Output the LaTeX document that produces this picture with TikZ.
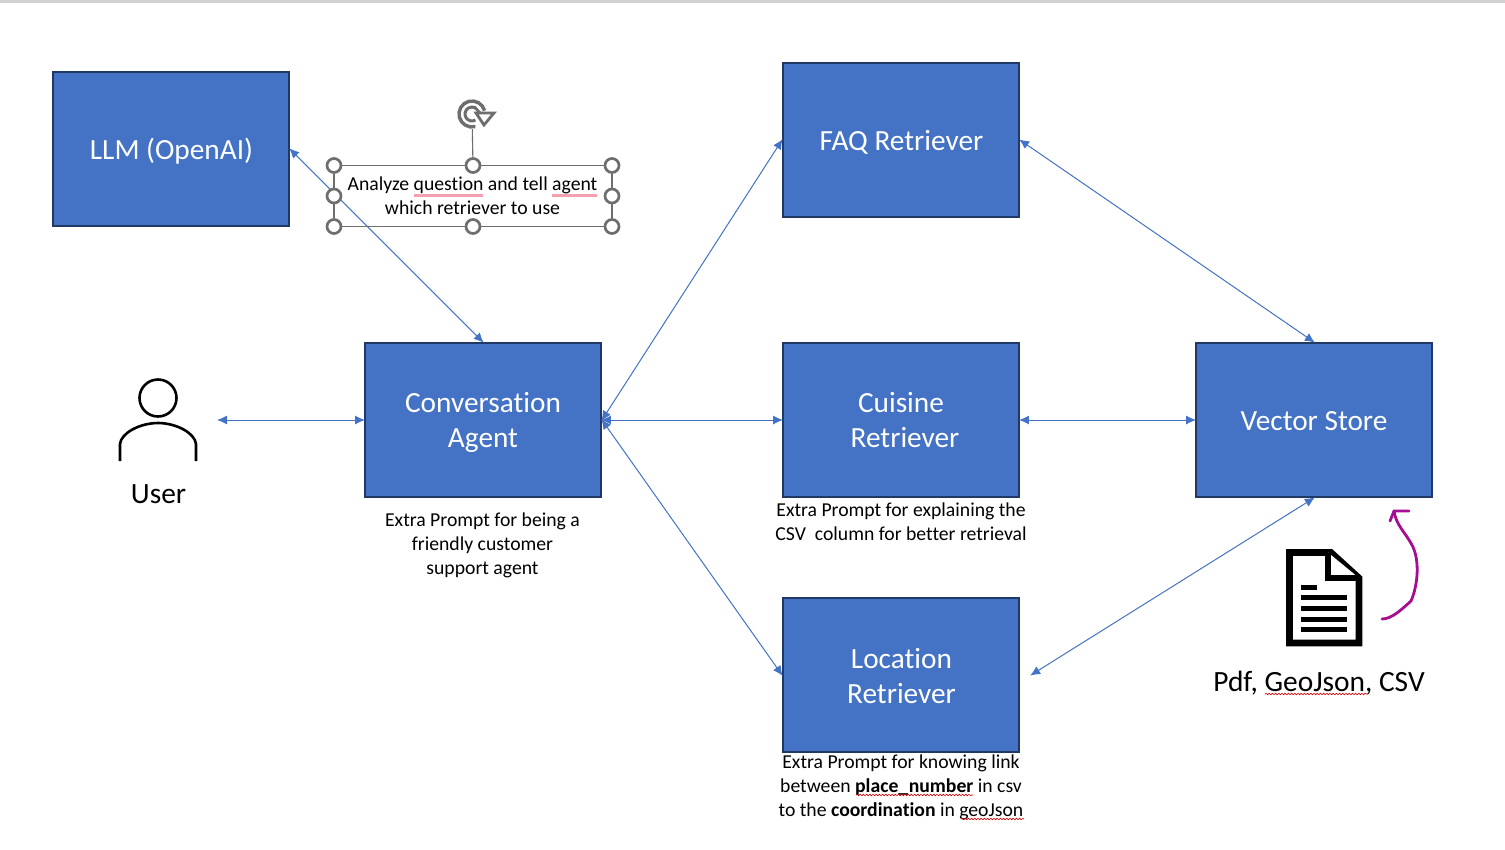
\documentclass[tikz,border=0pt]{standalone}
\usepackage{fontspec}
\setmainfont[Ligatures=NoCommon]{Carlito}
\usetikzlibrary{arrows.meta,decorations.pathmorphing}
\definecolor{boxfill}{HTML}{4472C4}
\definecolor{boxline}{HTML}{1F3864}
\definecolor{conn}{HTML}{4472C4}
\definecolor{handle}{HTML}{6E6E6E}
\definecolor{ink}{HTML}{A50E93}
\definecolor{pinkline}{HTML}{F4A0AE}
\newcommand{\lnfix}{\rule[-3.5pt]{0pt}{28pt}}
\newcommand{\lnone}{\rule[-2.5pt]{0pt}{28pt}}
\newcommand{\lntwo}{\rule[-4.5pt]{0pt}{28pt}}
\tikzset{
  x=1pt,y=-1pt,
  block/.style={draw=boxline,line width=1.9pt,fill=boxfill,text=white,minimum width=236pt,minimum height=154pt,inner sep=0pt,align=center,font=\fontsize{29.3}{35}\selectfont},
  small/.style={inner sep=0pt,align=center,text=black,font=\fontsize{19.7}{24}\selectfont},
  large/.style={inner sep=0pt,text=black,font=\fontsize{29.4}{35}\selectfont},
  link/.style={draw=conn,line width=1pt,shorten <=-1pt,shorten >=-1pt,{Latex[length=10pt,width=9pt]}-{Latex[length=10pt,width=9pt]}},
  grip/.style={circle,draw=handle,line width=2.7pt,fill=white,minimum size=14pt,inner sep=0pt},
  sel/.style={draw=handle,line width=1.1pt},
  squig/.style={draw=red!85!black,line width=0.6pt,decorate,decoration={snake,amplitude=0.8pt,segment length=3.2pt}},
  pinku/.style={draw=pinkline,line width=2.8pt},
  icon/.style={line width=6.6pt,draw=black,miter limit=10},
  pen/.style={draw=ink,line width=2.8pt,line cap=round,line join=round}
}
\begin{document}
\begin{tikzpicture}
\useasboundingbox (0,0) rectangle (1505,849);
\fill[white] (0,0) rectangle (1505,849);
\fill[black!18] (0,0) rectangle (1505,3);
% blocks
\node[block] (llm) at (171,149) {\lnone\hspace*{1pt}LLM (OpenAI)};
\node[block] (conv) at (483,420) {\lnfix Conversation\\\lnfix Agent};
\node[block] (faq) at (901,140) {\lnone\hspace*{1pt}FAQ Retriever};
\node[block] (cuisine) at (901,420) {\lntwo Cuisine\\\lntwo\hspace*{8pt}Retriever};
\node[block] (loc) at (901,675) {\lnfix\hspace*{1pt}Location\\\lnfix\hspace*{1pt}Retriever};
\node[block] (vec) at (1314,420) {\lnfix Vector Store};
% captions
\node[small] (capconv) at (482.5,545) {Extra Prompt for being a\\friendly customer\\support agent};
\node[small] (capcui) at (901,522) {Extra Prompt for explaining the\\CSV\ \ column for better retrieval};
\node[small] (caploc) at (901,787) {Extra Prompt for knowing link\\between \textbf{place\_\hspace{0.5pt}number} in csv\\to the \textbf{coordination} in geoJson};
% free ends
\coordinate (userend) at (218,420);
\coordinate (locend) at (1031,675);
% connectors
\draw[link] (llm.east) -- (conv.north);
\draw[link] (userend) -- (conv.west);
\draw[link] (conv.east) -- (faq.west);
\draw[link] (conv.east) -- (cuisine.west);
\draw[link] (conv.east) -- (loc.west);
\draw[link] (cuisine.east) -- (vec.west);
\draw[link] (faq.east) -- (vec.north);
\draw[link] (vec.south) -- (locend);
% selected text box
\node[grip] (g1) at (334,165.5) {};
\node[grip] (g2) at (473,165.5) {};
\node[grip] (g3) at (612,165.5) {};
\node[grip] (g4) at (334,196) {};
\node[grip] (g5) at (612,196) {};
\node[grip] (g6) at (334,226.5) {};
\node[grip] (g7) at (473,226.5) {};
\node[grip] (g8) at (612,226.5) {};
\coordinate (rot) at (472,114);
\draw[sel] (g1) -- (g2); \draw[sel] (g2) -- (g3);
\draw[sel] (g6) -- (g7); \draw[sel] (g7) -- (g8);
\draw[sel] (g1) -- (g4); \draw[sel] (g4) -- (g6);
\draw[sel] (g3) -- (g5); \draw[sel] (g5) -- (g8);
\draw[sel] (g2) -- (rot);
\node[small] (askt) at (472.5,196) {Analyze question and tell agent\\which retriever to use};
\draw[pinku] (414,195.5) -- (483,195.5);
\draw[pinku] (552,195.5) -- (597,195.5);
% rotate handle
\fill[white] (rot) circle (15pt);
\draw[handle,line width=3.4pt] ([shift={(-75:13pt)}]rot) arc (-75:-345:13pt);
\draw[handle,line width=3pt] ([shift={(-60:7pt)}]rot) arc (-60:-300:7pt);
\draw[handle,line width=2.8pt,line join=miter] (474,106.5) -- (480,113);
\draw[handle,line width=2.8pt,fill=white,line join=miter] (476,113) -- (494,113) -- (484,125) -- cycle;
% user
\node[draw=black,line width=2.6pt,circle,minimum size=37pt,inner sep=0pt] (head) at (158,398) {};
\draw[black,line width=2.6pt] (120,461) -- (120,444) .. controls (121,433) and (140,423) .. (158,423) .. controls (176,423) and (195,433) .. (196,444) -- (196,461);
\node[large] (usr) at (158.5,494) {User};
% document icon
\draw[icon,fill=white] (1289.5,552.5) -- (1331,552.5) -- (1359,578) -- (1359,643) -- (1289.5,643) -- cycle;
\draw[icon,fill=white,line width=6.6pt] (1328,552.5) -- (1328,578) -- (1359,578);
\fill[black] (1300.5,584.5) rectangle (1317,589.5);
\foreach \yy in {594.5,606,616.5,626.5} \fill[black] (1300.5,\yy) rectangle (1347,\yy+5);
\node[large] (src) at (1319,683) {Pdf, GeoJson, CSV};
% pen arrow
\draw[pen] (1382,619) .. controls (1392,619) and (1402,609) .. (1411,601) .. controls (1418,585) and (1420,560) .. (1412,545) .. controls (1405,532) and (1396,525) .. (1394,511);
\draw[pen] (1390,521) -- (1394,511) -- (1409,511);
% spell marks
\draw[squig] (1265,694) -- (1367,694);
\draw[squig] (856,795) -- (973,795);
\draw[squig] (961,819) -- (1024,819);
\end{tikzpicture}
\end{document}
